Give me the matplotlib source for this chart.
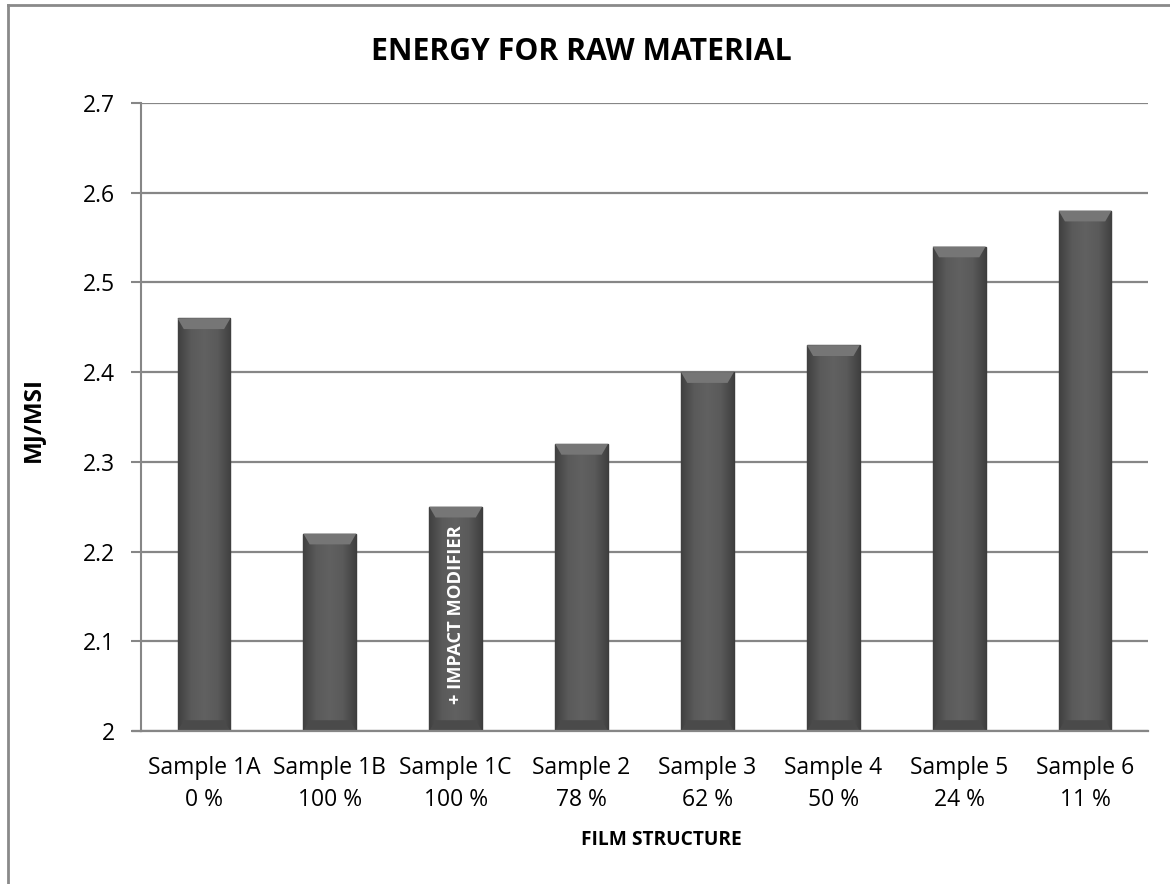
import numpy as np
import matplotlib
matplotlib.use("Agg")
import matplotlib.pyplot as plt
from matplotlib.lines import Line2D
from matplotlib.colors import LinearSegmentedColormap

# Chart data
samples = ["Sample 1A", "Sample 1B", "Sample 1C", "Sample 2", "Sample 3",
           "Sample 4", "Sample 5", "Sample 6"]
shares = ["0 %", "100 %", "100 %", "78 %", "62 %", "50 %", "24 %", "11 %"]
energy = [2.46, 2.22, 2.25, 2.32, 2.40, 2.43, 2.54, 2.58]
y_ticks = [2.0, 2.1, 2.2, 2.3, 2.4, 2.5, 2.6, 2.7]
y_tick_labels = ["2", "2.1", "2.2", "2.3", "2.4", "2.5", "2.6", "2.7"]

FONT = ["Open Sans", "DejaVu Sans"]
plt.rcParams["font.family"] = FONT

W, H = 1170, 884
fig = plt.figure(figsize=(W / 100, H / 100), dpi=100)
left, right, top, bottom = 141, 1148, 103, 731
ax = fig.add_axes([left / W, 1 - bottom / H, (right - left) / W, (bottom - top) / H])

x = np.arange(len(samples))
bars = ax.bar(x, energy, width=0.42, bottom=0, color="#575757",
              edgecolor="#3c3c3c", linewidth=1.0, zorder=3)

# horizontal shading across each bar to give a rounded look
shade = LinearSegmentedColormap.from_list(
    "shade", ["#404040", "#5a5a5a", "#616161", "#5a5a5a", "#404040"])
grad = np.linspace(0, 1, 256).reshape(1, -1)
for b in bars:
    bx, bw = b.get_x(), b.get_width()
    h = b.get_height()
    im = ax.imshow(grad, cmap=shade, aspect="auto",
                   extent=[bx, bx + bw, 2.0, h], zorder=3.5)
    im.set_clip_path(b)
    # lighter bevel at the top edge
    bev = 0.012
    ax.fill([bx, bx + bw, bx + bw - 0.05, bx + 0.05],
            [h, h, h - bev, h - bev], color="#767676", zorder=4, lw=0)
    # soft darker band at the base
    ax.fill([bx, bx + bw, bx + bw - 0.05, bx + 0.05],
            [2.0, 2.0, 2.0 + bev, 2.0 + bev], color="#4a4a4a", zorder=4, lw=0)

ax.set_xlim(-0.5, len(samples) - 0.5)
ax.set_ylim(2.0, 2.7)
ax.set_yticks(y_ticks)
ax.set_yticklabels(y_tick_labels, fontsize=16.5)
ax.set_xticks(x)
ax.set_xticklabels([f"{s}\n{p}" for s, p in zip(samples, shares)],
                   fontsize=16.5, linespacing=1.45)
ax.tick_params(axis="x", length=0, pad=18)
ax.tick_params(axis="y", length=7, width=1.5, color="#868686", pad=12)

ax.grid(axis="y", color="#868686", linewidth=1.6, zorder=0)
ax.set_axisbelow(True)
for side in ["top", "right"]:
    ax.spines[side].set_visible(False)
ax.spines["left"].set_color("#868686")
ax.spines["left"].set_linewidth(1.5)
ax.spines["bottom"].set_color("#868686")
ax.spines["bottom"].set_linewidth(1.6)
ax.spines["bottom"].set_zorder(5)

# bottom axis line extends under the y tick marks
fig.add_artist(Line2D([133 / W, left / W], [1 - bottom / H, 1 - bottom / H],
                      color="#868686", lw=1.6))

ax.text(2, 2.130, "+ IMPACT MODIFIER", rotation=90, ha="center", va="center",
        color="white", fontsize=13.2, fontweight="bold", zorder=6)

fig.text(581 / W, 1 - 52 / H, "ENERGY FOR RAW MATERIAL", ha="center",
         va="center", fontsize=21.7, fontweight="bold")
fig.text(33 / W, 1 - 420 / H, "MJ/MSI", ha="center", va="center",
         rotation=90, fontsize=17.5, fontweight="bold")
fig.text(661 / W, 1 - 840 / H, "FILM STRUCTURE", ha="center", va="center",
         fontsize=13.8, fontweight="bold")

# outer frame (left and top edges)
fig.add_artist(Line2D([8 / W, 8 / W], [0, 1 - 5 / H], color="#8a8a8a", lw=2))
fig.add_artist(Line2D([8 / W, 1], [1 - 5 / H, 1 - 5 / H], color="#8a8a8a", lw=2))

fig.savefig("out.png", dpi=100)
